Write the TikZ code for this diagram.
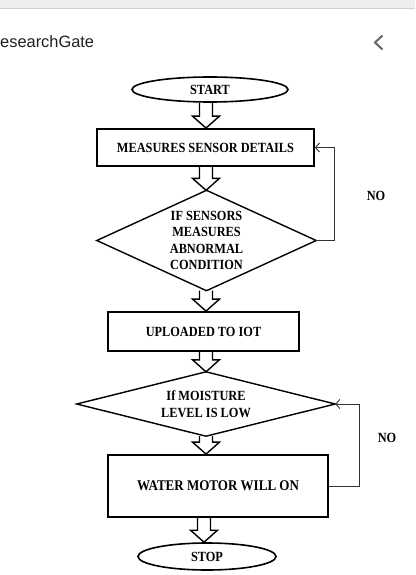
\documentclass[tikz,border=0pt]{standalone}
\usepackage{fontspec}
\setmainfont{Liberation Serif}[FakeStretch=0.88]
\newfontfamily\hdrfont{Liberation Sans}
\usetikzlibrary{shapes.geometric,arrows.meta,calc}
\begin{document}
\begin{tikzpicture}[x=1pt,y=-1pt,
  every node/.style={inner sep=0pt},
  lbl/.style={font=\fontsize{14}{16.5}\selectfont\bfseries},
  term/.style={ellipse,draw,line width=1.6pt,lbl},
  procbox/.style={rectangle,draw,line width=1.8pt,lbl},
  decbox/.style={rectangle,lbl,align=center},
  decline/.style={line width=1.4pt},
  barrow/.style={line width=1.4pt, to path={let \p1=(\tikztostart),\p2=(\tikztotarget) in
     (\x1-6.5pt,\y1) -- (\x1-6.5pt,\y2+12pt) -- (\x1-13.5pt,\y2+12pt) -- (\x1,\y2)
     -- (\x1+13.5pt,\y2+12pt) -- (\x1+6.5pt,\y2+12pt) -- (\x1+6.5pt,\y1)}},
  fb/.style={line width=0.9pt, draw=black!80, -{Straight Barb[length=4pt,width=9pt]}},
  nolbl/.style={lbl}
]
\useasboundingbox (0,0) rectangle (415,575);
\fill[white] (0,0) rectangle (415,575);
% browser header
\fill[black!7] (0,0) rectangle (415,8);
\draw[black!18, line width=1pt] (0,8.5) -- (415,8.5);
\node[font=\hdrfont\fontsize{16.4}{18}\selectfont, text=black!88, anchor=west] (hdr) at (0,42) {esearchGate};
\draw[line width=2pt, draw=black!60] (382.5,35.5) -- (375,42.5) -- (382.5,49.5);

% axis coordinates
\coordinate (ax) at (206,0);
\coordinate (ax2) at (204,0);
\coordinate (fb1) at (334,0);
\coordinate (fb2) at (359,0);

% nodes
\node[term, minimum width=156pt, minimum height=25pt] (start) at (210,89.5) {START};
\node[procbox, minimum width=217pt, minimum height=37pt] (measure) at (205.5,147.5) {MEASURES SENSOR DETAILS};
\node[decbox, minimum width=219pt, minimum height=100pt] (dec1) at (206.5,240.5) {IF SENSORS\\MEASURES\\ABNORMAL\\CONDITION};
\draw[decline] (dec1.north) -- (dec1.east) -- (dec1.south) -- (dec1.west) -- cycle;
\node[procbox, minimum width=191pt, minimum height=39pt] (upload) at (203.5,331.5) {UPLOADED TO IOT};
\node[decbox, minimum width=258pt, minimum height=64pt] (dec2) at (206,404) {If MOISTURE\\LEVEL IS LOW};
\draw[decline] (dec2.north) -- (dec2.east) -- (dec2.south) -- (dec2.west) -- cycle;
\node[procbox, minimum width=220pt, minimum height=62pt, font=\fontsize{14.8}{17}\selectfont\bfseries] (water) at (218,486) {WATER MOTOR WILL ON};
\node[term, minimum width=138pt, minimum height=27pt] (stop) at (207,556.5) {STOP};

% block arrows
\draw[barrow] (start.south -| ax) to (measure.north -| ax);
\draw[barrow] (measure.south -| ax) to (dec1.north -| ax);
\draw[barrow] (dec1.south -| ax) to (upload.north -| ax);
\draw[barrow] (upload.south -| ax) to (dec2.north -| ax);
\draw[barrow] (dec2.south -| ax) to (water.north -| ax);
\draw[barrow] (water.south -| ax2) to (stop.north -| ax2);

% feedback loops
\draw[fb] (dec1.east) -- (dec1.east -| fb1) -- (measure.east -| fb1) -- (measure.east);
\draw[fb] (water.east) -- (water.east -| fb2) -- (dec2.east -| fb2) -- (dec2.east);

\node[nolbl] (no1) at (376,196) {NO};
\node[nolbl] (no2) at (387,438) {NO};
\end{tikzpicture}
\end{document}
